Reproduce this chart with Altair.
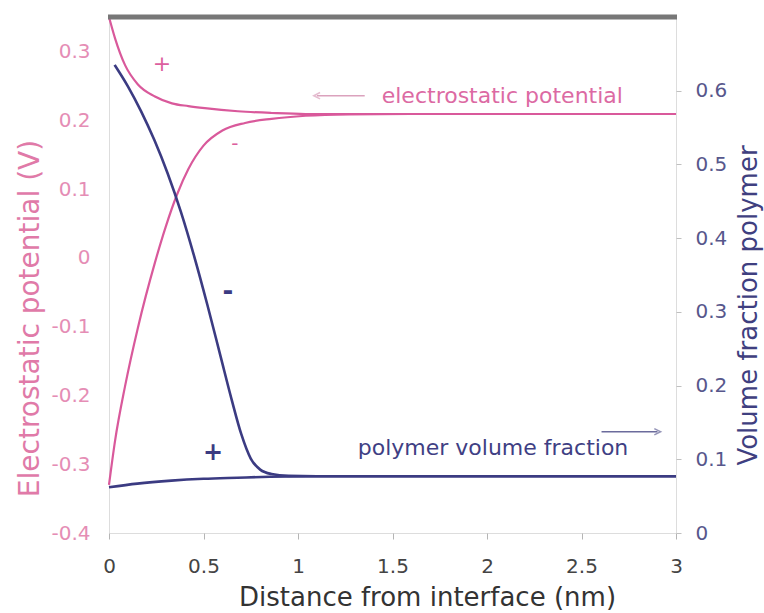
import altair as alt
import pandas as pd

# ---------------- data ----------------
x_ticks = [0, 0.5, 1, 1.5, 2, 2.5, 3]
left_ticks = [-0.4, -0.3, -0.2, -0.1, 0, 0.1, 0.2, 0.3]
right_ticks = [0, 0.1, 0.2, 0.3, 0.4, 0.5, 0.6]

# electrostatic potential, branch near a positively charged interface (+)
x_pot_upper = [0, 0.032, 0.085, 0.153, 0.243, 0.333, 0.42, 0.507, 0.682, 0.86, 1.04, 1.5, 2.0, 2.5, 3.0]
pot_upper = [0.35, 0.319, 0.280, 0.252, 0.2345, 0.2245, 0.2205, 0.2175, 0.213, 0.2105, 0.209, 0.209, 0.209, 0.209, 0.209]

# electrostatic potential, branch near a negatively charged interface (-)
x_pot_lower = [0, 0.032, 0.085, 0.153, 0.243, 0.30, 0.36, 0.42, 0.50, 0.60, 0.72, 0.86, 1.04, 1.27, 1.6, 2.0, 3.0]
pot_lower = [-0.33, -0.266, -0.1865, -0.1015, -0.007, 0.045, 0.092, 0.129, 0.163, 0.185, 0.196, 0.202, 0.2065, 0.2085, 0.209, 0.209, 0.209]

# polymer volume fraction, (-) interface
x_vf_upper = [0.03, 0.10, 0.17, 0.24, 0.31, 0.38, 0.45, 0.52, 0.59, 0.65, 0.70, 0.75, 0.80, 0.86, 0.95, 1.1, 1.5, 2.0, 2.5, 3.0]
vf_upper = [0.635, 0.606, 0.572, 0.533, 0.488, 0.436, 0.376, 0.310, 0.240, 0.180, 0.134, 0.101, 0.086, 0.080, 0.0775, 0.077, 0.077, 0.077, 0.077, 0.077]

# polymer volume fraction, (+) interface
x_vf_lower = [0, 0.15, 0.33, 0.5, 0.68, 0.85, 1.04, 1.5, 2.0, 2.5, 3.0]
vf_lower = [0.062, 0.067, 0.071, 0.0735, 0.075, 0.0763, 0.077, 0.077, 0.077, 0.077, 0.077]

# annotations (data coordinates on the left axis)
sign_labels = ["+", "-", "-", "+"]
sign_x = [0.28, 0.666, 0.629, 0.55]
sign_y = [0.282, 0.166, -0.049, -0.283]
sign_colors = ["#dc5f9f", "#dc5f9f", "#3b3b82", "#3b3b82"]
sign_sizes = [22, 20, 26, 24]
sign_weights = ["normal", "normal", "bold", "bold"]

phrase_labels = ["electrostatic potential", "polymer volume fraction"]
phrase_x = [1.443, 1.316]
phrase_y = [0.2356, -0.276]
phrase_colors = ["#dc6aa3", "#3f3f84"]

arrow_x = [1.10, 2.606]
arrow_x2 = [1.353, 2.902]
arrow_y = [0.2356, -0.2528]
arrow_head_x = [1.10, 2.902]
arrow_colors = ["#dba2bd", "#6b6b9c"]
arrow_shapes = ["M1,-1L-1,0L1,1", "M-1,-1L1,0L-1,1"]

# ---------------- tables ----------------
pot_df = pd.concat([
    pd.DataFrame({"x": x_pot_upper, "v": pot_upper, "branch": "upper"}),
    pd.DataFrame({"x": x_pot_lower, "v": pot_lower, "branch": "lower"}),
])
vf_df = pd.concat([
    pd.DataFrame({"x": x_vf_upper, "v": vf_upper, "branch": "upper"}),
    pd.DataFrame({"x": x_vf_lower, "v": vf_lower, "branch": "lower"}),
])
sign_df = pd.DataFrame({"label": sign_labels, "x": sign_x, "y": sign_y, "c": sign_colors,
                        "s": sign_sizes, "w": sign_weights})
phrase_df = pd.DataFrame({"label": phrase_labels, "x": phrase_x, "y": phrase_y, "c": phrase_colors})
arrow_df = pd.DataFrame({"x": arrow_x, "x2": arrow_x2, "y": arrow_y, "c": arrow_colors})
head_df = pd.DataFrame({"x": arrow_head_x, "y": arrow_y, "c": arrow_colors, "s": arrow_shapes})

FONT = "DejaVu Sans"
PINK = "#d9599b"
NAVY = "#3b3b82"
W, H = 567, 516

x_scale = alt.Scale(domain=[0, 3], nice=False, zero=False)


def yl_scale():
    return alt.Scale(domain=[-0.4, 0.35], nice=False, zero=False)


x_axis = alt.Axis(
    values=x_ticks, format="~g", title="Distance from interface (nm)",
    labelFont=FONT, labelFontSize=20, labelColor="#444444", labelPadding=17, labelFlush=False,
    tickSize=6, tickColor="#b5b5b5", tickWidth=1, domain=False, grid=False,
    titleFont=FONT, titleFontSize=26, titleColor="#333333", titleFontWeight="normal",
    titleX=318, titleY=64, titleBaseline="middle", titleAlign="center",
)
left_axis = alt.Axis(
    values=left_ticks, format="~g", labelExpr="replace(datum.label, '\u2212', '-')",
    title="Electrostatic potential (V)", orient="left",
    labelFont=FONT, labelFontSize=20, labelColor="#e58db5", labelPadding=19, labelFlush=False,
    ticks=False, domain=False, grid=False,
    titleFont=FONT, titleFontSize=28, titleColor="#e07aa8", titleFontWeight="normal",
    titleAngle=270, titleX=-79, titleY=301, titleBaseline="middle", titleAlign="center",
)
right_axis = alt.Axis(
    values=right_ticks, format="~g", title="Volume fraction polymer", orient="right",
    labelFont=FONT, labelFontSize=20, labelColor="#57578c", labelPadding=14, labelFlush=False,
    tickSize=5, tickColor="#c0c0c0", domain=False, grid=False,
    titleFont=FONT, titleFontSize=26, titleColor="#3f3f80", titleFontWeight="normal",
    titleAngle=270, titleX=72, titleY=288, titleBaseline="middle", titleAlign="center",
)

pot_lines = alt.Chart(pot_df).mark_line(color=PINK, strokeWidth=2.2, interpolate="monotone").encode(
    x=alt.X("x:Q", scale=x_scale, axis=x_axis),
    y=alt.Y("v:Q", scale=yl_scale(), axis=left_axis),
    detail="branch:N",
)
vf_lines = alt.Chart(vf_df).mark_line(color=NAVY, strokeWidth=2.6, interpolate="monotone").encode(
    x=alt.X("x:Q", scale=x_scale),
    y=alt.Y("v:Q", scale=alt.Scale(domain=[0, 0.7], nice=False), axis=right_axis),
    detail="branch:N",
)
signs = alt.Chart(sign_df).mark_text(font=FONT, align="center", baseline="middle").encode(
    x=alt.X("x:Q", scale=x_scale),
    y=alt.Y("y:Q", scale=yl_scale(), axis=None),
    text="label:N",
    size=alt.Size("s:Q", scale=None),
    color=alt.Color("c:N", scale=None),
).transform_calculate(dummy="0")
signs_normal = signs.transform_filter("datum.w == 'normal'")
signs_bold = alt.Chart(sign_df).mark_text(font=FONT, align="center", baseline="middle", fontWeight="bold").encode(
    x=alt.X("x:Q", scale=x_scale),
    y=alt.Y("y:Q", scale=yl_scale(), axis=None),
    text="label:N",
    size=alt.Size("s:Q", scale=None),
    color=alt.Color("c:N", scale=None),
).transform_filter("datum.w == 'bold'")
phrases = alt.Chart(phrase_df).mark_text(font=FONT, fontSize=22, align="left", baseline="middle").encode(
    x=alt.X("x:Q", scale=x_scale),
    y=alt.Y("y:Q", scale=yl_scale(), axis=None),
    text="label:N",
    color=alt.Color("c:N", scale=None),
)
arrows = alt.Chart(arrow_df).mark_rule(strokeWidth=1.5).encode(
    x=alt.X("x:Q", scale=x_scale),
    x2="x2:Q",
    y=alt.Y("y:Q", scale=yl_scale(), axis=None),
    color=alt.Color("c:N", scale=None),
)
heads = alt.Chart(head_df).mark_point(filled=False, strokeWidth=1.5, size=40).encode(
    x=alt.X("x:Q", scale=x_scale),
    y=alt.Y("y:Q", scale=yl_scale(), axis=None),
    shape=alt.Shape("s:N", scale=None),
    color=alt.Color("c:N", scale=None),
)
top_border = alt.Chart(pd.DataFrame({"a": [0]})).mark_rule(color="#777777", strokeWidth=5).encode(
    x=alt.value(-1), x2=alt.value(W + 1), y=alt.value(0)
)

chart = alt.layer(
    pot_lines, vf_lines, signs_normal, signs_bold, phrases, arrows, heads, top_border
).resolve_scale(y="independent").properties(
    width=W, height=H, autosize="none",
    padding={"left": 109, "top": 17, "right": 88, "bottom": 80},
).configure_view(stroke="#8c8c8c", strokeWidth=3).configure(background="white")

chart.save("out.html", embed_options={"renderer": "svg", "actions": False})
